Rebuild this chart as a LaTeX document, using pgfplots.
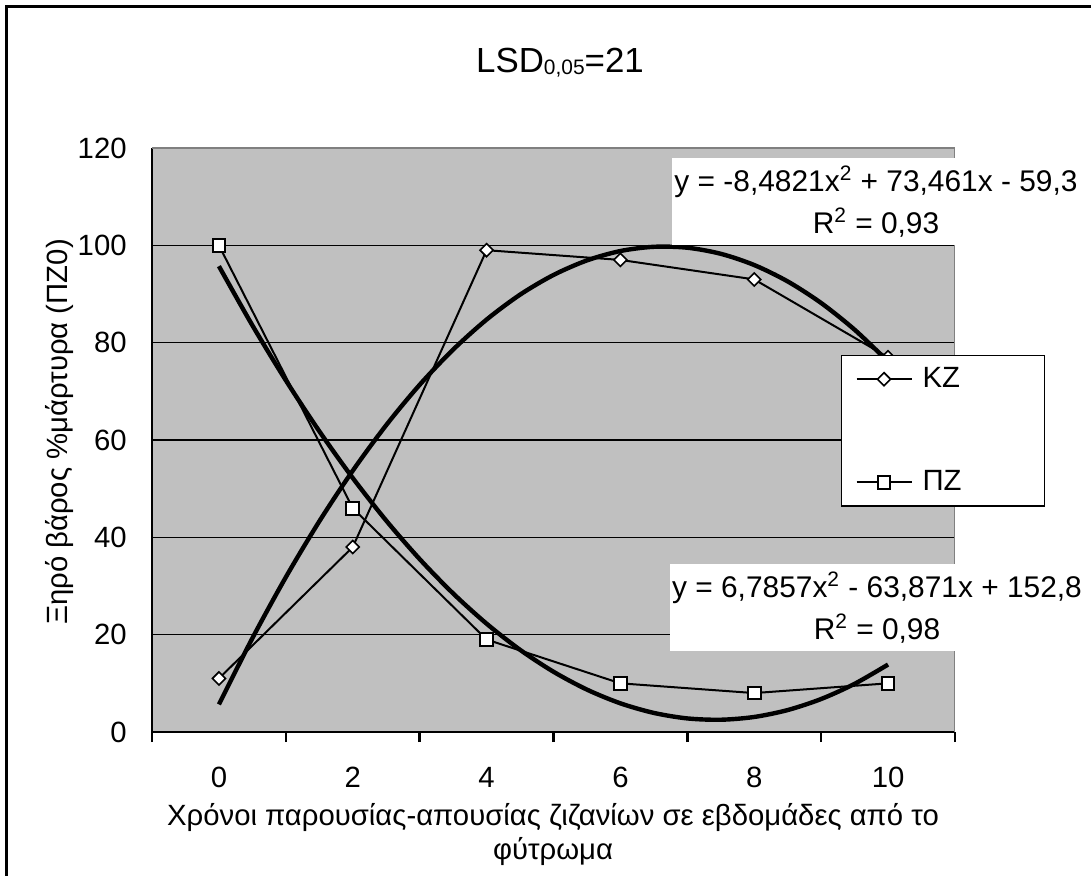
\documentclass[border=0pt]{standalone}
\usepackage{pgfplots}
\pgfplotsset{compat=1.18}
\usepackage{fontspec}
\setmainfont{Liberation Sans}
\definecolor{plotgray}{RGB}{192,192,192}
\definecolor{edgegray}{RGB}{128,128,128}

\begin{document}
\begin{tikzpicture}
\useasboundingbox (-76bp,-72bp) rectangle (469.5bp,366bp);
\begin{axis}[
  at={(0,0)}, anchor=south west,
  width=401.5bp, height=292bp, scale only axis,
  xmin=-0.5, xmax=5.5, ymin=0, ymax=120,
  xtick={0,...,5}, xticklabels={0,2,4,6,8,10},
  minor xtick={-0.5,0.5,...,5.5},
  ytick={0,20,...,120},
  axis x line*=bottom, axis y line*=left,
  axis line style={-, black, line width=1.3bp},
  ymajorgrids, grid style={black, line width=0.6bp},
  tick align=outside, major tick length=0pt, minor tick length=5bp,
  every major tick/.append style={draw=none},
  every minor tick/.append style={draw=black, line width=1.3bp},
  axis background/.style={fill=plotgray},
  tick label style={font=\fontsize{14.7}{17}\selectfont},
  /pgf/number format/assume math mode=true,
  xticklabel style={inner sep=0pt, yshift=-17.5bp},
  yticklabel style={inner sep=0pt, xshift=-12.5bp},
  legend style={at={(0.858,0.6455)}, anchor=north west, draw=black,
    line width=0.6bp, fill=white, inner xsep=7bp, inner ysep=6bp,
    row sep=40bp, column sep=5bp, font=\fontsize{14.7}{17}\selectfont,
    nodes={inner sep=0pt}, cells={anchor=west}},
  legend image code/.code={\draw[mark repeat=2,mark phase=2,#1]
    plot coordinates {(0bp,0bp) (13.75bp,0bp) (27.5bp,0bp)};},
]
% KZ
\addplot[black, line width=1bp, mark=square*, mark size=2.3bp,
  mark options={fill=white, rotate=45, line width=0.8bp}]
  coordinates {(0,11) (1,38) (2,99) (3,97) (4,93) (5,77)};
\addlegendentry{\makebox[54bp][l]{KZ}}
% PZ
\addplot[black, line width=1bp, mark=square*, mark size=3.2bp,
  mark options={fill=white, line width=1bp}]
  coordinates {(0,100) (1,46) (2,19) (3,10) (4,8) (5,10)};
\addlegendentry{\makebox[54bp][l]{ΠΖ}}
% trendlines
\addplot[black, line width=2.2bp, smooth, forget plot] coordinates {
  (0,5.68) (0.25,19.27) (0.5,31.81) (0.75,43.28) (1,53.69) (1.25,63.05)
  (1.5,71.34) (1.75,78.57) (2,84.74) (2.25,89.86) (2.5,93.91) (2.75,96.90)
  (3,98.83) (3.25,99.70) (3.5,99.51) (3.75,98.26) (4,95.95) (4.25,92.58)
  (4.5,88.15) (4.75,82.66) (5,76.11)};
\addplot[black, line width=2.2bp, smooth, forget plot] coordinates {
  (0,95.72) (0.25,83.56) (0.5,72.26) (0.75,61.81) (1,52.20) (1.25,43.44)
  (1.5,35.53) (1.75,28.47) (2,22.26) (2.25,16.89) (2.5,12.38) (2.75,8.71)
  (3,5.89) (3.25,3.92) (3.5,2.79) (3.75,2.52) (4,3.09) (4.25,4.51)
  (4.5,6.78) (4.75,9.90) (5,13.86)};
\draw[edgegray, line width=1bp] (rel axis cs:0,1) -- (rel axis cs:1,1) -- (rel axis cs:1,0);
\end{axis}
% trendline labels
\node[fill=white, inner xsep=1bp, inner ysep=4bp, align=center,
  font=\fontsize{15}{21}\selectfont] at (362bp,265.25bp)
  {y = -8,4821x\textsuperscript{2} + 73,461x - 59,3\\R\textsuperscript{2} = 0,93};
\node[fill=white, inner xsep=1bp, inner ysep=4bp, align=center,
  font=\fontsize{15}{21}\selectfont] at (362.5bp,62.25bp)
  {y = 6,7857x\textsuperscript{2} - 63,871x + 152,8\\R\textsuperscript{2} = 0,98};
% title and axis labels
\node[anchor=base, font=\fontsize{17.5}{20}\selectfont] at (204bp,329.5bp)
  {LSD\raisebox{-1bp}{\fontsize{10.5}{12}\selectfont 0,05}=21};
\node[rotate=90, anchor=base, font=\fontsize{14.7}{17}\selectfont] at (-42bp,150bp)
  {Ξηρό βάρος \%μάρτυρα (ΠΖ0)};
\node[anchor=base, font=\fontsize{14.7}{17}\selectfont] at (200.5bp,-46.5bp)
  {Χρόνοι παρουσίας-απουσίας ζιζανίων σε εβδομάδες από το};
\node[anchor=base, font=\fontsize{14.7}{17}\selectfont] at (200.5bp,-63.5bp)
  {φύτρωμα};
% chart frame
\draw[black, line width=1.5bp] (-72.5bp,-72bp) -- (-72.5bp,362.5bp) -- (469.5bp,362.5bp);
\end{tikzpicture}
\end{document}
